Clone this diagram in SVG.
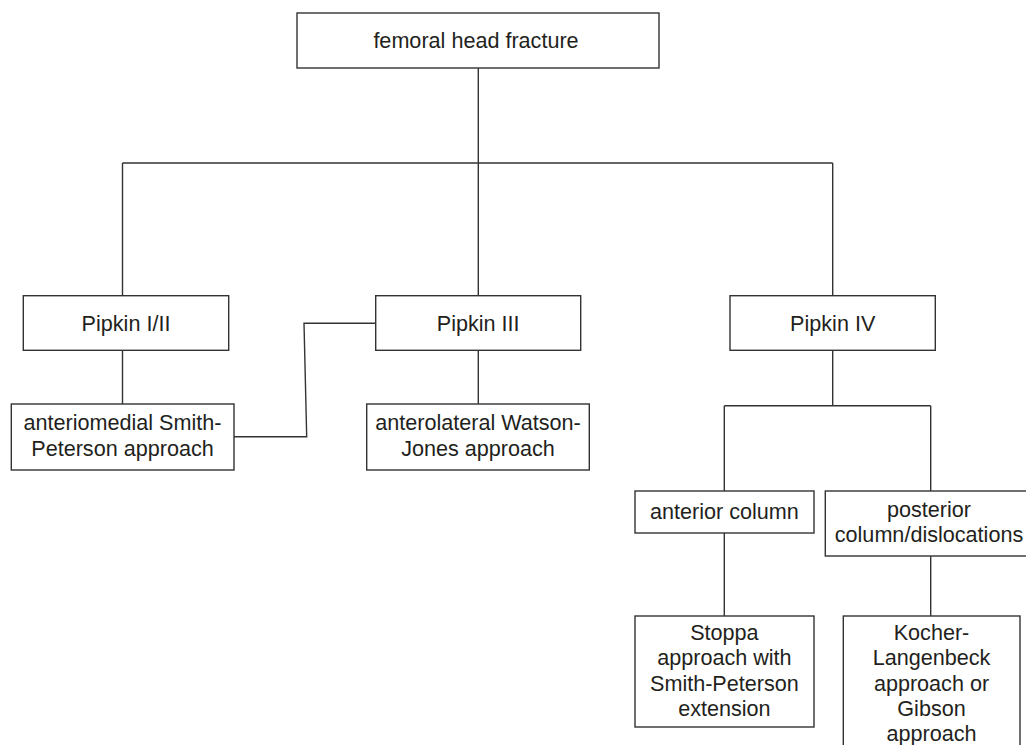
<svg xmlns="http://www.w3.org/2000/svg" width="1026" height="745" viewBox="0 0 1026 745">
<style>
.box{fill:#fff;stroke:#333;stroke-width:1.4}
.lbl{font-family:"Liberation Sans",Arial,sans-serif;font-size:21.6px;fill:#231f20;text-anchor:middle}
.con{fill:none;stroke:#333;stroke-width:1.4}
</style>
<rect width="1026" height="745" fill="#fff"/>
<g id="connectors">
<path class="con" d="M478.3,68 V163 M122.5,163 H832.7 M122.5,163 V296 M478.3,163 V296 M832.7,163 V296"/>
<path class="con" d="M122.5,350.3 V404 M478.3,350.3 V404"/>
<path class="con" d="M234,436.7 H306.7 L304,323.3 H375.7"/>
<path class="con" d="M832.7,350.3 V405.7 M724.3,405.7 H930.7 M724.3,405.7 V491 M930.7,405.7 V491"/>
<path class="con" d="M724.3,533 V616 M930.7,556 V616"/>
</g>
<g id="n-femoral">
<rect class="box" x="297" y="13" width="362" height="55"/>
<text class="lbl" x="476" y="48">femoral head fracture</text>
</g>
<g id="n-pipkin12">
<rect class="box" x="23.3" y="295.7" width="205.4" height="54.6"/>
<text class="lbl" x="126" y="330.7">Pipkin I/II</text>
</g>
<g id="n-pipkin3">
<rect class="box" x="375.7" y="295.7" width="205" height="54.6"/>
<text class="lbl" x="478.2" y="330.7">Pipkin III</text>
</g>
<g id="n-pipkin4">
<rect class="box" x="730" y="295.7" width="205.3" height="54.6"/>
<text class="lbl" x="832.7" y="330.7">Pipkin IV</text>
</g>
<g id="n-anteriomedial">
<rect class="box" x="11.3" y="404" width="222.7" height="66"/>
<text class="lbl" x="122.5" y="430">anteriomedial Smith-</text>
<text class="lbl" x="122.5" y="455.7">Peterson approach</text>
</g>
<g id="n-anterolateral">
<rect class="box" x="366.7" y="404" width="222.6" height="66"/>
<text class="lbl" x="478" y="430">anterolateral Watson-</text>
<text class="lbl" x="478" y="455.7">Jones approach</text>
</g>
<g id="n-anterior">
<rect class="box" x="635" y="491" width="179" height="42"/>
<text class="lbl" x="724.4" y="519">anterior column</text>
</g>
<g id="n-posterior">
<rect class="box" x="825.3" y="491" width="205" height="65"/>
<text class="lbl" x="929" y="516.7">posterior</text>
<text class="lbl" x="929" y="541.7">column/dislocations</text>
</g>
<g id="n-stoppa">
<rect class="box" x="635" y="616" width="179" height="111"/>
<text class="lbl" x="724.4" y="640">Stoppa</text>
<text class="lbl" x="724.4" y="665.3">approach with</text>
<text class="lbl" x="724.4" y="690.6">Smith-Peterson</text>
<text class="lbl" x="724.4" y="716">extension</text>
</g>
<g id="n-kocher">
<rect class="box" x="843.3" y="616" width="176.7" height="140"/>
<text class="lbl" x="931.5" y="640">Kocher-</text>
<text class="lbl" x="931.5" y="665.3">Langenbeck</text>
<text class="lbl" x="931.5" y="690.6">approach or</text>
<text class="lbl" x="931.5" y="716">Gibson</text>
<text class="lbl" x="931.5" y="741.3">approach</text>
</g>
</svg>
